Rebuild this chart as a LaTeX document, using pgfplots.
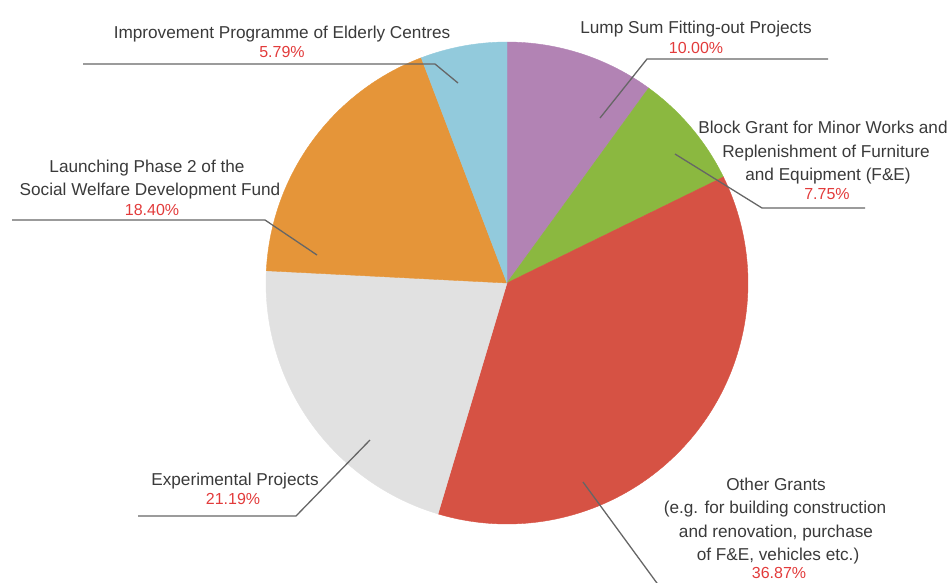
\documentclass[border=0pt]{standalone}
\usepackage{pgfplots}
\usepackage{pgfplotstable}
\pgfplotsset{compat=1.18}
\usepackage{fontspec}
\setmainfont{Liberation Sans}
\definecolor{cLump}{HTML}{B283B4}
\definecolor{cBlock}{HTML}{8BB840}
\definecolor{cOther}{HTML}{D65244}
\definecolor{cExp}{HTML}{E1E1E1}
\definecolor{cLaunch}{HTML}{E59539}
\definecolor{cImpr}{HTML}{92CADC}
\definecolor{txt}{HTML}{3A3A3A}
\definecolor{pct}{HTML}{E23B3B}
\definecolor{lead}{HTML}{666666}

\pgfplotstableread{
slice pct
Lump 10.00
Block 7.75
Other 36.87
Exp 21.19
Launch 18.40
Impr 5.79
}\piedata

\begin{document}
\begin{tikzpicture}
\pgfplotstablegetelem{0}{pct}\of\piedata \let\pA\pgfplotsretval
\pgfplotstablegetelem{1}{pct}\of\piedata \let\pB\pgfplotsretval
\pgfplotstablegetelem{2}{pct}\of\piedata \let\pC\pgfplotsretval
\pgfplotstablegetelem{3}{pct}\of\piedata \let\pD\pgfplotsretval
\pgfplotstablegetelem{4}{pct}\of\piedata \let\pE\pgfplotsretval
\pgfplotstablegetelem{5}{pct}\of\piedata \let\pF\pgfplotsretval
\pgfmathsetmacro\tA{0}
\pgfmathsetmacro\tB{\tA+3.6*\pA}
\pgfmathsetmacro\tC{\tB+3.6*\pB}
\pgfmathsetmacro\tD{\tC+3.6*\pC}
\pgfmathsetmacro\tE{\tD+3.6*\pD}
\pgfmathsetmacro\tF{\tE+3.6*\pE}
\pgfmathsetmacro\tG{360}
\begin{axis}[
  scale only axis, width=950pt, height=582pt,
  xmin=0, xmax=950, ymin=0, ymax=582, y dir=reverse,
  hide axis, clip=false,
]
\pgfplotsset{pie/.style={line width=0.4pt, samples=90, variable=\t}}
\addplot[pie, fill=cLump, draw=cLump, domain=\tA:\tB] ({507+241*sin(\t)},{283-241*cos(\t)}) -- (507,283) -- cycle;
\addplot[pie, fill=cBlock, draw=cBlock, domain=\tB:\tC] ({507+241*sin(\t)},{283-241*cos(\t)}) -- (507,283) -- cycle;
\addplot[pie, fill=cOther, draw=cOther, domain=\tC:\tD] ({507+241*sin(\t)},{283-241*cos(\t)}) -- (507,283) -- cycle;
\addplot[pie, fill=cExp, draw=cExp, domain=\tD:\tE] ({507+241*sin(\t)},{283-241*cos(\t)}) -- (507,283) -- cycle;
\addplot[pie, fill=cLaunch, draw=cLaunch, domain=\tE:\tF] ({507+241*sin(\t)},{283-241*cos(\t)}) -- (507,283) -- cycle;
\addplot[pie, fill=cImpr, draw=cImpr, domain=\tF:\tG] ({507+241*sin(\t)},{283-241*cos(\t)}) -- (507,283) -- cycle;

% leader lines
\draw[lead, line width=1.3pt] (83,64) -- (435,64) -- (458,83);
\draw[lead, line width=1.3pt] (600,118) -- (647,59) -- (828,59);
\draw[lead, line width=1.3pt] (675,154) -- (762,208) -- (865,208);
\draw[lead, line width=1.3pt] (12,220) -- (265,220) -- (317,255);
\draw[lead, line width=1.3pt] (138,516) -- (296,516) -- (370,440);
\draw[lead, line width=1.3pt] (583,482) -- (662,590);

\tikzset{lab/.style={anchor=base, inner sep=0pt, text=txt, font=\fontsize{17.2}{21}\selectfont},
         pc/.style={anchor=base, inner sep=0pt, text=pct, font=\fontsize{16}{19}\selectfont}}
% Improvement
\node[lab] at (282,38) {Improvement Programme of Elderly Centres};
\node[pc] at (282,57) {5.79\%};
% Lump sum
\node[lab] at (696,33) {Lump Sum Fitting-out Projects};
\node[pc] at (696,53) {10.00\%};
% Block grant
\node[lab] at (823,133) {Block Grant for Minor Works and};
\node[lab] at (826,157) {Replenishment of Furniture};
\node[lab] at (828,180) {and Equipment (F\&E)};
\node[pc] at (827,199) {7.75\%};
% Launching
\node[lab] at (147,172) {Launching Phase 2 of the};
\node[lab] at (150,195) {Social Welfare Development Fund};
\node[pc] at (152,215) {18.40\%};
% Experimental
\node[lab] at (235,485) {Experimental Projects};
\node[pc] at (233,504) {21.19\%};
% Other
\node[lab] at (776,490) {Other Grants};
\node[lab] at (775,513) {(e.g. for building construction};
\node[lab] at (776,537) {and renovation, purchase};
\node[lab] at (778,560) {of F\&E, vehicles etc.)};
\node[pc] at (779,578) {36.87\%};

\coordinate (bl) at (0,582);
\coordinate (tr) at (950,0);
\end{axis}
\pgfresetboundingbox
\useasboundingbox (bl) rectangle (tr);
\end{tikzpicture}
\end{document}
